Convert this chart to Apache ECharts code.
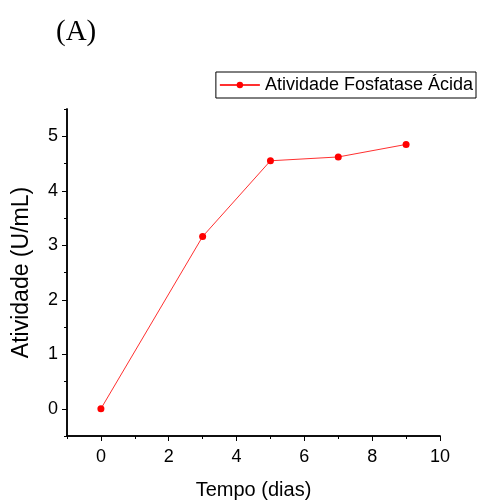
<!DOCTYPE html>
<html><head><meta charset="utf-8">
<script src="https://cdn.jsdelivr.net/npm/echarts@6/dist/echarts.min.js"></script>
<style>html,body{margin:0;padding:0;background:#fff}#c{width:478px;height:502px}</style>
</head><body><div id="c"></div>
<script>
const seriesName = 'Atividade Fosfatase Ácida';
const tempo = [0, 3, 5, 7, 9];
const atividade = [0, 3.16, 4.55, 4.62, 4.85];
const xTicks = [0, 2, 4, 6, 8, 10];
const yTicks = [0, 1, 2, 3, 4, 5];

const font = 'Liberation Sans, Arial, sans-serif';
const chart = echarts.init(document.getElementById('c'), null, {renderer: 'canvas'});
const axisCommon = {
  type: 'value',
  axisLine: {show: true, onZero: false, lineStyle: {color: '#000', width: 1.5}},
  splitLine: {show: false}
};
chart.setOption({
  animation: false,
  backgroundColor: '#fff',
  title: {text: '(A)', left: 51, top: 13, textStyle: {fontFamily: 'Liberation Serif, Times New Roman, serif', fontSize: 29, fontWeight: 'normal', color: '#000'}},
  legend: {
    data: [seriesName], right: 2, top: 72, itemWidth: 40, itemHeight: 8, itemGap: 0,
    borderColor: '#000', borderWidth: 1, padding: [4, 3, 4, 3],
    textStyle: {fontFamily: font, fontSize: 18, color: '#000'}
  },
  grid: {left: 67, right: 38, top: 109, bottom: 66, outerBoundsMode: 'none', containLabel: false},
  xAxis: [
    Object.assign({}, axisCommon, {min: -1, max: 10, interval: 1,
      axisTick: {show: true, inside: false, length: 3, lineStyle: {color: '#000'}},
      axisLabel: {show: false}}),
    Object.assign({}, axisCommon, {min: -1, max: 10, position: 'bottom',
      axisTick: {show: true, length: 5, customValues: xTicks, lineStyle: {color: '#000'}},
      axisLabel: {show: true, customValues: xTicks, fontFamily: font, fontSize: 18, color: '#000', margin: 12},
      name: 'Tempo (dias)', nameLocation: 'middle', nameGap: 44,
      nameTextStyle: {fontFamily: font, fontSize: 20, color: '#000'}})
  ],
  yAxis: [
    Object.assign({}, axisCommon, {min: -0.5, max: 5.5, interval: 0.5,
      axisTick: {show: true, length: 3, lineStyle: {color: '#000'}},
      axisLabel: {show: false}}),
    Object.assign({}, axisCommon, {min: -0.5, max: 5.5, position: 'left',
      axisTick: {show: true, length: 5, customValues: yTicks, lineStyle: {color: '#000'}},
      axisLabel: {show: true, customValues: yTicks, fontFamily: font, fontSize: 18, color: '#000', margin: 9},
      name: 'Atividade (U/mL)', nameLocation: 'middle', nameGap: 34, nameRotate: 90,
      nameTextStyle: {fontFamily: font, fontSize: 23, color: '#000'}})
  ],
  series: [{
    name: seriesName, type: 'line', xAxisIndex: 1, yAxisIndex: 1,
    data: tempo.map((t, i) => [t, atividade[i]]),
    symbol: 'circle', symbolSize: 7,
    itemStyle: {color: '#ff0000'},
    lineStyle: {color: '#ff3030', width: 1}
  }]
});
</script></body></html>
